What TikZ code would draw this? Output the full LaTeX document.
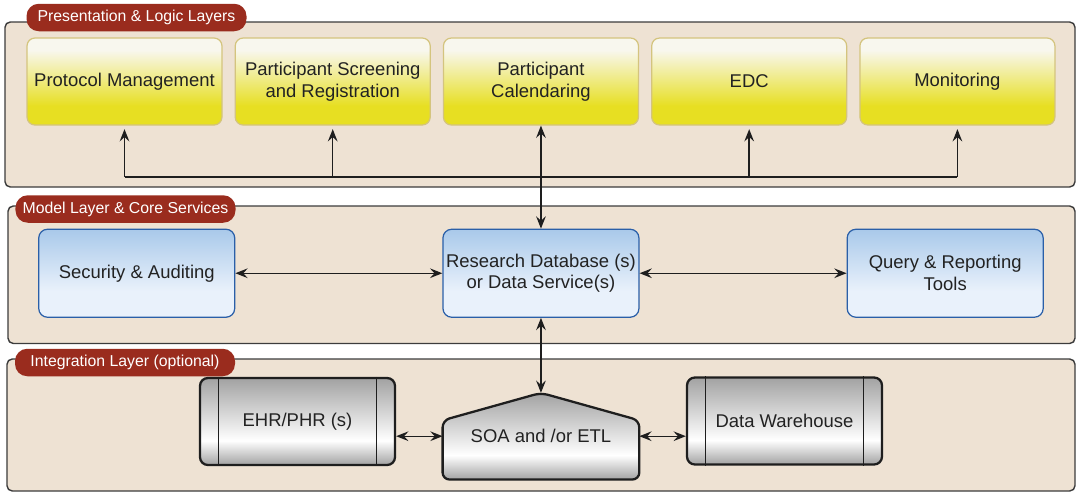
\documentclass[tikz,border=0pt]{standalone}
\usepackage{fontspec}
\setmainfont{Liberation Sans}
\usepackage{tikz}
\usetikzlibrary{positioning, arrows.meta, backgrounds}

\definecolor{rgpanel}{HTML}{EEE2D3}
\definecolor{rgedge}{HTML}{3C3C3C}
\definecolor{rgtag}{HTML}{9A2C1E}
\definecolor{rgytop}{HTML}{F8F7EE}
\definecolor{rgylow}{HTML}{E7DF22}
\definecolor{rgyedge}{HTML}{D4C47E}
\definecolor{rgbtop}{HTML}{A9C9EA}
\definecolor{rgblow}{HTML}{E9F1FB}
\definecolor{rgbedge}{HTML}{2A5FA8}
\definecolor{rggray}{HTML}{A2A2A2}
\definecolor{rgdark}{HTML}{1E1E1E}
\definecolor{rgtext}{HTML}{222222}

\pgfdeclareverticalshading{ylwshade}{100bp}{color(0bp)=(rgylow); color(36bp)=(rgylow); color(68bp)=(rgytop); color(100bp)=(rgytop)}
\pgfdeclareverticalshading{blushade}{100bp}{color(0bp)=(rgblow); color(40bp)=(rgblow); color(75bp)=(rgbtop); color(100bp)=(rgbtop)}
\pgfdeclareverticalshading{drumshade}{100bp}{color(0bp)=(rggray); color(25bp)=(rggray); color(39bp)=(white); color(75bp)=(rggray); color(100bp)=(rggray)}

\begin{document}
\begin{tikzpicture}[
  panel/.style={rectangle, rounded corners=3pt, draw=rgedge, fill=rgpanel, line width=0.8pt},
  tag/.style={
    rectangle, rounded corners=7pt, fill=rgtag, text=white,
    font=\fontsize{9}{10}\selectfont, minimum width=4.4cm, minimum height=0.55cm, inner sep=2pt
  },
  appbox/.style={
    rectangle, rounded corners=4.5pt, draw=rgyedge, line width=0.7pt, shading=ylwshade,
    minimum width=3.9cm, minimum height=1.74cm, inner sep=1pt,
    font=\fontsize{10.5}{12.4}\selectfont, align=center, text=rgtext
  },
  svcbox/.style={
    rectangle, rounded corners=5pt, draw=rgbedge, line width=0.7pt, shading=blushade,
    minimum width=3.92cm, minimum height=1.76cm, inner sep=1pt,
    font=\fontsize{10.5}{12.4}\selectfont, align=center, text=rgtext
  },
  drum/.style={
    rectangle, rounded corners=4.5pt, draw=rgdark, line width=1.3pt, shading=drumshade,
    minimum width=3.9cm, minimum height=1.74cm, inner sep=1pt,
    font=\fontsize{10.5}{12.4}\selectfont, align=center, text=rgtext
  },
  soabox/.style={
    rectangle, minimum width=3.92cm, minimum height=1.72cm, inner sep=1pt,
    font=\fontsize{10.5}{12.4}\selectfont, align=center, text=rgtext
  },
  arr/.style={-{Stealth[length=7pt, width=5.5pt, inset=2.5pt]}, line width=0.8pt, color=rgdark},
  darr/.style={{Stealth[length=7pt, width=5.5pt, inset=2.5pt]}-{Stealth[length=7pt, width=5.5pt, inset=2.5pt]}, line width=0.8pt, color=rgdark},
]
\useasboundingbox (0,0) rectangle (21.52,-9.86);

% Layers
\begin{scope}[on background layer]
  \draw[panel] (0.10,-0.44) rectangle (21.50,-3.74);
  \draw[panel] (0.16,-4.12) rectangle (21.50,-6.87);
  \draw[panel] (0.14,-7.18) rectangle (21.50,-9.82);
\end{scope}

\node[tag] (tagpres) at (2.73,-0.35) {Presentation \& Logic Layers};
\node[tag] (tagmodel) at (2.51,-4.18) {Model Layer \& Core Services};
\node[tag] (tagint) at (2.50,-7.25) {Integration Layer (optional)};

% Presentation layer
\node[appbox] (protocol) at (2.49,-1.63) {Protocol Management};
\node[appbox, right=0.24cm of protocol] (screening) {Participant Screening\\and Registration};
\node[appbox, right=0.24cm of screening] (calendar) {Participant\\Calendaring};
\node[appbox, right=0.24cm of calendar] (edc) {EDC};
\node[appbox, right=0.24cm of edc] (monitor) {Monitoring};

% Model layer
\node[svcbox, below=2.06cm of calendar] (research) {Research Database (s)\\or Data Service(s)};
\node[svcbox, left=4.14cm of research] (security) {Security \& Auditing};
\node[svcbox, right=4.14cm of research] (query) {Query \& Reporting\\Tools};

% Integration layer
\node[soabox, below=1.5cm of research] (soa) {SOA and /or ETL};
\begin{scope}[on background layer]
  \draw[drum, rounded corners=4pt] (soa.south west) -- ([yshift=-0.55cm]soa.north west)
    -- (soa.north) -- ([yshift=-0.55cm]soa.north east) -- (soa.south east) -- cycle;
\end{scope}
\node[drum] (ehr) at (5.95,-8.43) {EHR/PHR (s)};
\node[drum] (dwh) at (15.69,-8.42) {Data Warehouse};
\foreach \n in {ehr, dwh} {
  \draw[rgdark, line width=0.6pt] ([xshift=0.4cm]\n.north west) -- ([xshift=0.4cm]\n.south west);
  \draw[rgdark, line width=0.6pt] ([xshift=-0.4cm]\n.north east) -- ([xshift=-0.4cm]\n.south east);
}

% Arrows
\coordinate (bus) at (0,-3.54);
\draw[rgdark, line width=0.8pt] (protocol.south |- bus) -- (monitor.south |- bus);
\foreach \n in {protocol, screening, edc, monitor}
  \draw[arr, shorten >=2pt] (\n.south |- bus) -- (\n.south);
\draw[darr] (calendar.south) -- (research.north);
\draw[darr] (security.east) -- (research.west);
\draw[darr] (research.east) -- (query.west);
\draw[darr] (research.south) -- (soa.north);
\draw[darr] (ehr.east |- soa.west) -- (soa.west);
\draw[darr] (soa.east) -- (dwh.west |- soa.east);

\end{tikzpicture}
\end{document}
